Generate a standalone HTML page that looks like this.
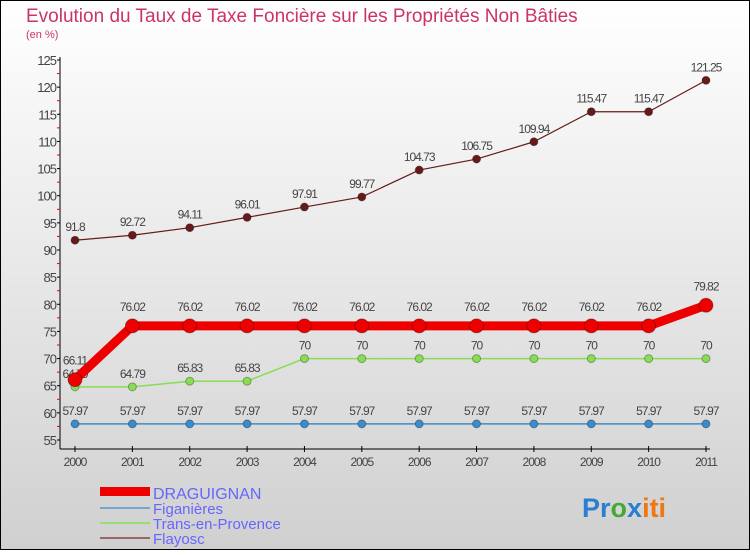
<!DOCTYPE html>
<html><head><meta charset="utf-8"><style>
body{margin:0}
svg text{font-family:"Liberation Sans",sans-serif}
</style></head><body>
<svg id="c" width="750" height="550" xmlns="http://www.w3.org/2000/svg">
<defs><linearGradient id="bg" x1="0" y1="0" x2="0" y2="1"><stop offset="0" stop-color="#ffffff"/><stop offset="1" stop-color="#d0d0d0"/></linearGradient></defs>
<rect x="0.5" y="0.5" width="749" height="549" fill="url(#bg)" stroke="#000"/>
<text x="26" y="22" font-size="19" fill="#cc3366">Evolution du Taux de Taxe Foncière sur les Propriétés Non Bâties</text>
<text x="26" y="38" font-size="11" fill="#cc3366">(en %)</text>
<g id="axes"></g>
<g id="series"></g>
<g>
<rect x="100" y="487" width="50" height="9" fill="#ee0000"/>
<text x="153" y="499" font-size="16" fill="#6666ff">DRAGUIGNAN</text>
<line x1="100" y1="508" x2="150" y2="508" stroke="#6fa8d0" stroke-width="2"/>
<text x="153" y="514" font-size="15" fill="#6666ff">Figanières</text>
<line x1="100" y1="523" x2="150" y2="523" stroke="#99dd77" stroke-width="2"/>
<text x="153" y="529" font-size="15" fill="#6666ff">Trans-en-Provence</text>
<line x1="100" y1="538" x2="150" y2="538" stroke="#996666" stroke-width="2"/>
<text x="153" y="544" font-size="15" fill="#6666ff">Flayosc</text>
</g>
<text x="582" y="517" font-size="27" font-weight="bold"><tspan fill="#2a7fd0">Pr</tspan><tspan fill="#44aa33">o</tspan><tspan fill="#2a7fd0">x</tspan><tspan fill="#ee7711">iti</tspan></text>
</svg>
<script>
const years=["2000","2001","2002","2003","2004","2005","2006","2007","2008","2009","2010","2011"];
const draguignan=[66.11,76.02,76.02,76.02,76.02,76.02,76.02,76.02,76.02,76.02,76.02,79.82];
const figanieres=[57.97,57.97,57.97,57.97,57.97,57.97,57.97,57.97,57.97,57.97,57.97,57.97];
const trans=[64.79,64.79,65.83,65.83,70,70,70,70,70,70,70,70];
const flayosc=[91.8,92.72,94.11,96.01,97.91,99.77,104.73,106.75,109.94,115.47,115.47,121.25];
const yTicks=[55,60,65,70,75,80,85,90,95,100,105,110,115,120,125];
const NS="http://www.w3.org/2000/svg";
const X=i=>75+i*(706-75)/(years.length-1);
const Y=v=>440-(v-55)*(380/70);
function mk(t,a,p){const e=document.createElementNS(NS,t);for(const k in a)e.setAttribute(k,a[k]);p.appendChild(e);return e;}
const ax=document.getElementById('axes');
const yl=mk('line',{x1:60,y1:57,x2:60,y2:449,stroke:'#000'},ax);


const xl=mk('line',{x1:60,y1:449,x2:710,y2:449,stroke:'#000'},ax);


yTicks.forEach((v,i)=>{
 mk('line',{x1:57,y1:Y(v),x2:60,y2:Y(v),stroke:'#000'},ax);
 if(i<yTicks.length-1) mk('line',{x1:57,y1:Y(v+2.5),x2:60,y2:Y(v+2.5),stroke:'#ee0000'},ax);
 const t=mk('text',{x:56,y:Y(v)+5,'font-size':13,'text-anchor':'end',fill:'#444','letter-spacing':'-1'},ax);
 t.textContent=v;
 
 
});
years.forEach((y,i)=>{
 mk('line',{x1:X(i),y1:446,x2:X(i),y2:452,stroke:'#000'},ax);
 const t=mk('text',{x:X(i),y:466,'font-size':12,'text-anchor':'middle',fill:'#444','letter-spacing':'-1'},ax);
 t.textContent=y;
 
 
});
const sg=document.getElementById('series');
function series(vals,name,color,w,r,labelOff){
 const g=mk('g',{},sg);
 
 
 const pl=mk('polyline',{points:vals.map((v,i)=>X(i)+','+Y(v)).join(' '),fill:'none',stroke:color,'stroke-width':w,'stroke-linejoin':'round'},g);
 
 
 vals.forEach((v,i)=>{
  const c=mk('circle',{cx:X(i),cy:Y(v),r:r,fill:color,stroke:'rgba(0,0,0,0.3)'},g);
  
  
  const t=mk('text',{x:X(i),y:Y(v)-labelOff,'font-size':12,'text-anchor':'middle',fill:'#444','letter-spacing':'-1'},g);
  t.textContent=String(v);
  
  
 });
}
series(figanieres,'figanieres','#3a8ccc',1.5,4,9);
series(trans,'trans-en-provence','#88dd55',1.5,4,9);
series(flayosc,'flayosc','#661a1a',1.2,4,9);
series(draguignan,'draguignan','#ee0000',9,7,15);
</script>
</body></html>
